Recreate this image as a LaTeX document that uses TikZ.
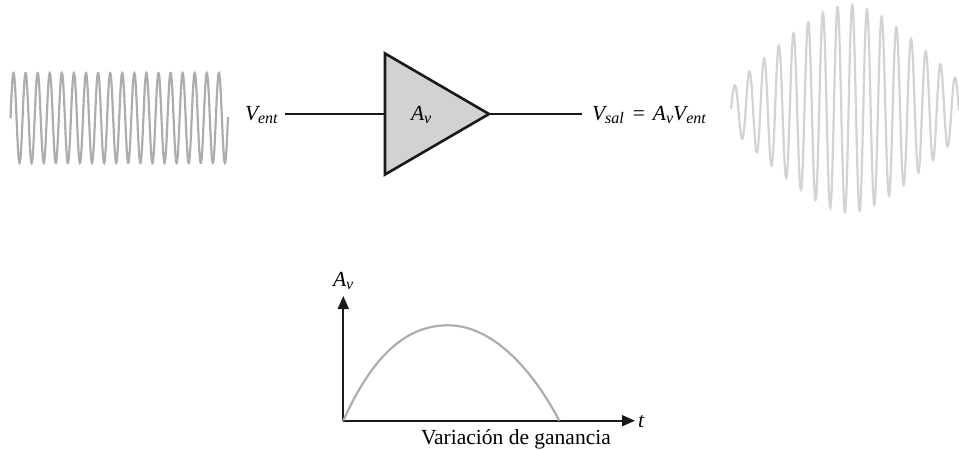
\documentclass[tikz,border=0pt]{standalone}
\usepackage{xcolor}
\usepackage{fontspec}
\setmainfont{Liberation Serif}
\usepackage{tikz}
\usetikzlibrary{arrows.meta,shapes.geometric,positioning,calc}
\definecolor{wavein}{HTML}{ADADAF}
\definecolor{waveout}{HTML}{D2D3D5}
\definecolor{ampfill}{HTML}{D1D2D4}
\newcommand{\varsub}[2]{\textit{#1\raisebox{-0.35ex}{\fontsize{8}{9}\selectfont #2}}}
\tikzset{
  lbl/.style={anchor=base west, inner sep=0pt, outer sep=0pt, font=\fontsize{10.75}{12}\selectfont},
  wire/.style={draw=black!90, line width=0.8pt},
  axis/.style={draw=black!90, line width=0.85pt, -{Triangle[length=6.5pt,width=5.5pt]}},
  wave/.style={line width=1.1pt}
}
\begin{document}
\begin{tikzpicture}[x=0.5pt,y=-0.5pt]
  \useasboundingbox (0,0) rectangle (959,450);

  % input and output signals
  \draw[wave, wavein, domain=10.5:228, samples=700, smooth]
    plot (\x, {118-45*sin(29.80*(\x-10.5))});
  \draw[wave, waveout, domain=731:959, samples=800, smooth]
    plot (\x, {108.7-(143.3-10*sqrt(16+(0.0989*(\x-849))^2))*sin(24.49*(\x-731))});

  % amplifier
  \node[isosceles triangle, isosceles triangle apex angle=60.4, draw=black!90, fill=ampfill,
    line width=1.3pt, minimum height=52pt, inner sep=0pt, outer sep=0pt, anchor=apex] (amp) at (489,114) {};
  \node[lbl] (gain) at (411,120) {\varsub{A}{v}};
  \coordinate (wirein) at (285,114);
  \coordinate (wireout) at (582,114);
  \draw[wire] (wirein) -- (amp.lower side);
  \draw[wire] (amp.apex) -- (wireout);
  \node[lbl] (vent) at (245,120) {\varsub{V}{ent}};
  \node[lbl] (vsal) at (592,120) {\varsub{V}{sal}\hspace{4.5pt}=\hspace{4pt}\varsub{A}{v}\varsub{V}{ent}};

  % gain over time
  \coordinate (orig) at (343.3,420.7);
  \coordinate (ytop) at (343.3,296);
  \coordinate (xtop) at (635,420.7);
  \coordinate (gainpeak) at (448,325.3);
  \coordinate (gainend) at (559.3,420.7);
  \draw[axis] (orig) -- (ytop);
  \draw[axis] (orig) -- (xtop);
  \draw[wave, wavein] (orig) .. controls (375,350) and (410,325.3) .. (gainpeak)
    .. controls (490,325.3) and (530,365) .. (gainend);
  \node[lbl] (avlbl) at (333,286) {\varsub{A}{v}};
  \node[lbl] (tlbl) at (638,427) {\textit{t}};
  \node[lbl] (varlbl) at (421,444) {Variación de ganancia};
\end{tikzpicture}
\end{document}
